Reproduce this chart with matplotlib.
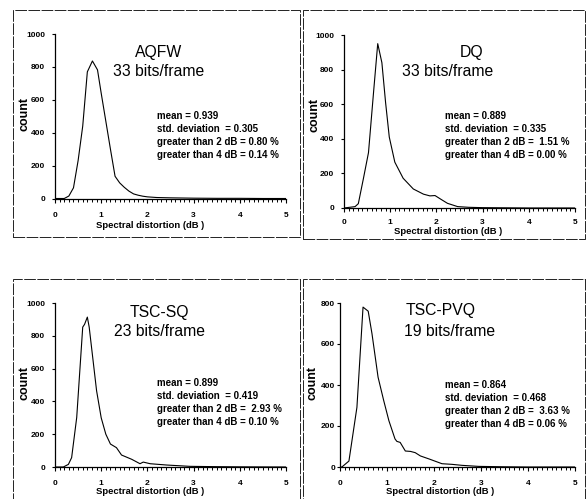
import matplotlib
matplotlib.use("Agg")
import matplotlib.pyplot as plt
from matplotlib.patches import Rectangle
from matplotlib.ticker import MultipleLocator

# ---------------- data ----------------
titles = ["AQFW", "DQ", "TSC-SQ", "TSC-PVQ"]
subtitles = ["33 bits/frame", "33 bits/frame", "23 bits/frame", "19 bits/frame"]

aqfw_x = [0, 0.2, 0.3, 0.4, 0.5, 0.6, 0.7, 0.81, 0.92, 1.0, 1.1, 1.2, 1.3, 1.4, 1.5, 1.6, 1.7, 1.8, 1.9, 2.0, 2.2, 2.5, 3.0, 3.5, 4.0, 4.5, 5.0]
aqfw_y = [0, 0, 15, 65, 230, 440, 770, 836, 782, 640, 470, 300, 135, 95, 68, 45, 28, 20, 14, 10, 6, 4, 2, 1, 1, 0, 0]

dq_x = [0, 0.24, 0.31, 0.42, 0.53, 0.64, 0.73, 0.82, 0.9, 0.98, 1.1, 1.28, 1.5, 1.72, 1.86, 1.97, 2.1, 2.24, 2.46, 2.7, 3.0, 3.5, 4.0, 5.0]
dq_y = [0, 8, 25, 170, 320, 670, 950, 840, 610, 410, 265, 172, 110, 80, 70, 72, 50, 27, 8, 4, 2, 1, 0, 0]

sq_x = [0, 0.18, 0.29, 0.36, 0.47, 0.6, 0.64, 0.7, 0.74, 0.9, 1.0, 1.1, 1.2, 1.33, 1.44, 1.55, 1.66, 1.84, 1.91, 2.06, 2.42, 2.92, 3.5, 4.0, 5.0]
sq_y = [0, 0, 16, 57, 302, 853, 870, 914, 853, 465, 300, 200, 140, 118, 73, 60, 47, 20, 30, 20, 12, 4, 2, 1, 0]

pvq_x = [0, 0.04, 0.19, 0.36, 0.49, 0.6, 0.68, 0.81, 0.93, 1.04, 1.17, 1.21, 1.28, 1.39, 1.5, 1.6, 1.71, 1.91, 2.17, 2.38, 2.6, 2.95, 3.5, 4.0, 5.0]
pvq_y = [0, 0, 29, 291, 780, 760, 651, 438, 324, 226, 137, 125, 120, 78, 76, 70, 54, 38, 16, 13, 8, 3, 1, 0, 0]

series_x = [aqfw_x, dq_x, sq_x, pvq_x]
series_y = [aqfw_y, dq_y, sq_y, pvq_y]

stats = [
    ["mean = 0.939", "std. deviation  = 0.305", "greater than 2 dB = 0.80 %", "greater than 4 dB = 0.14 %"],
    ["mean = 0.889", "std. deviation  = 0.335", "greater than 2 dB =  1.51 %", "greater than 4 dB = 0.00 %"],
    ["mean = 0.899", "std. deviation  = 0.419", "greater than 2 dB =  2.93 %", "greater than 4 dB = 0.10 %"],
    ["mean = 0.864", "std. deviation  = 0.468", "greater than 2 dB =  3.63 %", "greater than 4 dB = 0.06 %"],
]
ymax = [1000, 1000, 1000, 800]
xlabel = "Spectral distortion (dB )"
ylabel = "count"

# ---------------- layout (pixels) ----------------
W, H = 587, 499
fig = plt.figure(figsize=(W / 100, H / 100), dpi=100)
fig.patch.set_facecolor("white")

def fx(x):
    return x / W

def fy(y):
    return 1 - y / H

# axes boxes: (x0, x5, y_top, y_zero)
boxes = [(55, 286, 34, 198.5), (344, 575, 35, 208), (55, 286, 303, 467), (340, 575, 303, 467)]
xtick_pads = [6.5, 5, 6.5, 6.5]
ytick_pads = [5, 5, 5, 1.5]
title_pos = [((159, 52), (159, 72)), ((472, 52), (448, 72)), ((159, 312), (159, 332)), ((441, 311), (450, 331))]
stats_pos = [(157, 116), (445, 116), (157, 383), (445, 385)]
ylab_pos = [(25, 114), (314, 115), (25, 383), (312, 383)]
xlab_pos = [(150, 225), (448, 231), (150, 492), (440, 492)]
frames = [(13, 10, 300, 237), (303, 10, 585, 239), (13, 279, 300, 505), (303, 279, 585, 505)]

FONT = "Liberation Sans"

for i in range(4):
    x0, x5, yt, yz = boxes[i]
    ax = fig.add_axes([fx(x0), fy(yz), (x5 - x0) / W, (yz - yt) / H])
    ax.plot(series_x[i], series_y[i], color="black", lw=0.8)
    ax.set_xlim(0, 5)
    ax.set_ylim(0, ymax[i])
    ax.spines["top"].set_visible(False)
    ax.spines["right"].set_visible(False)
    for s in ("left", "bottom"):
        ax.spines[s].set_linewidth(0.9)
    ax.xaxis.set_major_locator(MultipleLocator(1))
    ax.xaxis.set_minor_locator(MultipleLocator(0.1))
    ax.yaxis.set_major_locator(MultipleLocator(200))
    ax.tick_params(axis="x", which="major", direction="out", length=3, width=0.8, pad=xtick_pads[i])
    ax.tick_params(axis="x", which="minor", direction="out", length=2, width=0.7)
    ax.tick_params(axis="y", which="major", direction="out", length=2, width=0.8, pad=ytick_pads[i])
    for lab in ax.get_xticklabels() + ax.get_yticklabels():
        lab.set_fontfamily(FONT)
        lab.set_fontweight("bold")
        lab.set_fontsize(6)

    (tx, ty), (sx, sy) = title_pos[i]
    fig.text(fx(tx), fy(ty), titles[i], ha="center", va="center", fontsize=11.3, family=FONT)
    fig.text(fx(sx), fy(sy), subtitles[i], ha="center", va="center", fontsize=11.3, family=FONT)

    px, py = stats_pos[i]
    for k, line in enumerate(stats[i]):
        fig.text(fx(px), fy(py + k * 13), line, ha="left", va="center", fontsize=7,
                 family=FONT, fontweight="bold")

    lx, ly = ylab_pos[i]
    fig.text(fx(lx), fy(ly), ylabel, ha="center", va="center", rotation=90, fontsize=9,
             family=FONT, fontweight="bold")
    xx, xy = xlab_pos[i]
    fig.text(fx(xx), fy(xy), xlabel, ha="center", va="center", fontsize=6.8,
             family=FONT, fontweight="bold")

    l, t, r, b = frames[i]
    fig.patches.append(Rectangle((fx(l), fy(b)), (r - l) / W, (b - t) / H, transform=fig.transFigure,
                                 fill=False, edgecolor="#222222", lw=0.7, linestyle=(0, (12, 1.5)),
                                 clip_on=False))

fig.savefig("out.png", dpi=100, facecolor="white")
